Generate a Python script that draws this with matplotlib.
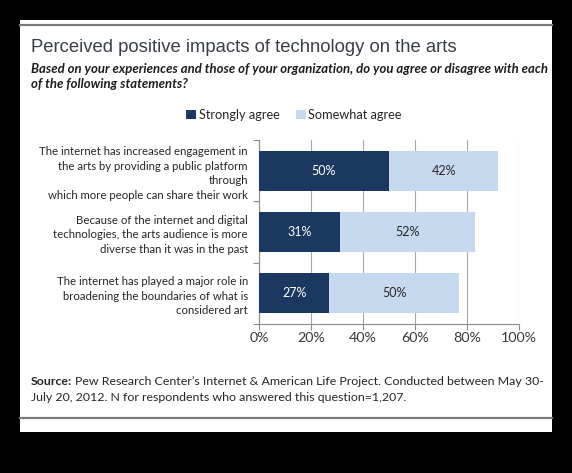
import matplotlib
matplotlib.use("Agg")
import matplotlib.pyplot as plt
from matplotlib.patches import Rectangle, Patch
from matplotlib.lines import Line2D
import numpy as np

# ---- data ----
categories = [
    "The internet has increased engagement in\nthe arts by providing a public platform\nthrough\nwhich more people can share their work",
    "Because of the internet and digital\ntechnologies, the arts audience is more\ndiverse than it was in the past",
    "The internet has played a major role in\nbroadening the boundaries of what is\nconsidered art",
]
strongly_agree = [50, 31, 27]
somewhat_agree = [42, 52, 50]
series_names = ["Strongly agree", "Somewhat agree"]
x_ticks = [0, 20, 40, 60, 80, 100]
x_tick_labels = ["0%", "20%", "40%", "60%", "80%", "100%"]

title = "Perceived positive impacts of technology on the arts"
subtitle_lines = ["Based on your experiences and those of your organization, do you agree or disagree with each",
                  "of the following statements?"]
source_bold = "Source:"
source_rest = "Pew Research Center\u2019s Internet & American Life Project. Conducted between May 30-"
source_line2 = "July 20, 2012. N for respondents who answered this question=1,207."

# ---- style ----
W, H = 572, 473
DARK = "#1b3861"
LIGHT = "#c6d9ef"
BODY_FONT = "Lato"
TITLE_FONT = "Liberation Sans"

def fx(x):
    return x / W

def fy(y):
    return 1 - y / H

fig = plt.figure(figsize=(W / 100, H / 100), dpi=100, facecolor="black")

# white card
fig.add_artist(Rectangle((fx(20), fy(432)), fx(552) - fx(20), fy(20) - fy(432),
                         transform=fig.transFigure, facecolor="white", edgecolor="none", zorder=-5))
for yy in (25, 418):
    fig.add_artist(Line2D([fx(20), fx(552)], [fy(yy), fy(yy)], transform=fig.transFigure,
                          color="#7a7a7a", linewidth=1.6, zorder=-4))

fig.text(fx(31), fy(52), title, fontfamily=TITLE_FONT, fontsize=13.3, color="#3a3f47",
         ha="left", va="baseline")
for i, line in enumerate(subtitle_lines):
    fig.text(fx(31), fy(73 + 15 * i), line, fontfamily=BODY_FONT, fontsize=9.45, fontweight="bold",
             fontstyle="italic", color="#1e1e1e", ha="left", va="baseline")

ax = fig.add_axes([fx(259), fy(324), fx(519) - fx(259), fy(140) - fy(324)])
ax.set_facecolor("none")

y = np.arange(len(categories))
bh = 0.655
b1 = ax.barh(y, strongly_agree, height=bh, color=DARK, zorder=3, label=series_names[0])
b2 = ax.barh(y, somewhat_agree, left=strongly_agree, height=bh, color=LIGHT, zorder=3,
             label=series_names[1])

for rect, v in zip(b1, strongly_agree):
    ax.text(rect.get_x() + rect.get_width() / 2, rect.get_y() + rect.get_height() / 2, f"{v}%",
            ha="center", va="center", color="white", fontsize=9, fontfamily=BODY_FONT, zorder=4)
for rect, v in zip(b2, somewhat_agree):
    ax.text(rect.get_x() + rect.get_width() / 2, rect.get_y() + rect.get_height() / 2, f"{v}%",
            ha="center", va="center", color="#262626", fontsize=9, fontfamily=BODY_FONT, zorder=4)

ax.set_xlim(0, 100)
ax.set_ylim(len(categories) - 0.5, -0.5)
ax.set_xticks(x_ticks)
ax.set_xticklabels(x_tick_labels, fontfamily=BODY_FONT, fontsize=10.3, color="#3a3a3a")
ax.set_yticks(y)
ax.set_yticklabels(categories, fontfamily=BODY_FONT, fontsize=8.2, color="#262626",
                   ha="right", linespacing=1.38)
ax.set_yticks(np.arange(len(categories) + 1) - 0.5, minor=True)
ax.tick_params(axis="y", which="major", length=0, pad=8)
ax.tick_params(axis="y", which="minor", length=4, width=0.8, color="#8c8c8c", direction="out")
ax.tick_params(axis="x", which="major", length=4, width=0.8, color="#8c8c8c", direction="out", pad=1.5)

ax.grid(axis="x", color="#a9a9a9", linewidth=0.8, zorder=0)
ax.set_axisbelow(True)
for s in ("top", "right"):
    ax.spines[s].set_visible(False)
for s in ("left", "bottom"):
    ax.spines[s].set_color("#8c8c8c")
    ax.spines[s].set_linewidth(0.8)

handles = [Patch(facecolor=DARK, edgecolor="none"), Patch(facecolor=LIGHT, edgecolor="none")]
fig.legend(handles, series_names, loc="center", bbox_to_anchor=(fx(294), fy(115)), ncol=2,
           frameon=False, handlelength=0.75, handleheight=0.75, handletextpad=0.2,
           columnspacing=1.3, prop={"family": BODY_FONT, "size": 9.2}, labelcolor="#262626")

t1 = fig.text(fx(31), fy(385), source_bold, fontfamily=BODY_FONT, fontsize=8.95, fontweight="bold",
              color="#262626", ha="left", va="baseline")
fig.canvas.draw()
bb = t1.get_window_extent()
fig.text((bb.x1 + 3) / W, fy(385), source_rest, fontfamily=BODY_FONT, fontsize=8.95, color="#262626",
         ha="left", va="baseline")
fig.text(fx(31), fy(401), source_line2, fontfamily=BODY_FONT, fontsize=8.95, color="#262626",
         ha="left", va="baseline")

fig.savefig("out.png", dpi=100, facecolor=fig.get_facecolor())
